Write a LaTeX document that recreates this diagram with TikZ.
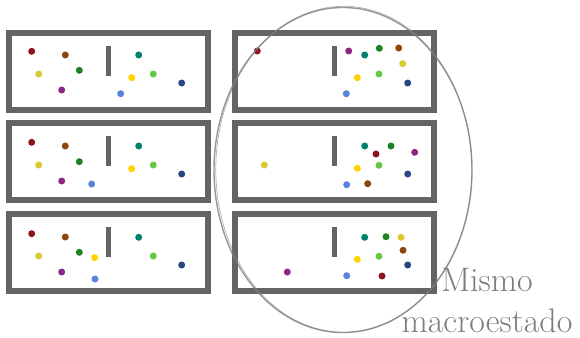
\documentclass[tikz,border=0pt]{standalone}
\usepackage{tikz}
\usetikzlibrary{math}
\usetikzlibrary{calc}

\definecolor{rojo}{RGB}{140,20,30}
\definecolor{marron}{RGB}{140,70,10}
\definecolor{verdeazul}{RGB}{0,128,110}
\definecolor{verde}{RGB}{30,130,30}
\definecolor{amarillo}{RGB}{220,200,50}
\definecolor{oro}{RGB}{255,210,0}
\definecolor{verdeclaro}{RGB}{100,200,70}
\definecolor{morado}{RGB}{140,40,130}
\definecolor{celeste}{RGB}{90,130,220}
\definecolor{azul}{RGB}{40,70,130}
\definecolor{marco}{RGB}{100,100,100}
\definecolor{lapiz}{RGB}{125,125,125}

\begin{document}
\begin{tikzpicture}[x=1pt, y=-1pt,
  caja/.style={draw=marco, line width=6pt, minimum width=199pt, minimum height=77pt, inner sep=0pt},
  pared/.style={draw=marco, line width=5pt},
  texto/.style={text=lapiz, font=\fontsize{34}{41}\selectfont, align=center, inner sep=0pt}]
\tikzmath{
\r=3.5;
}
\useasboundingbox (0,0) rectangle (580,337);

% las seis cajas
\node[caja] (L1) at (108.5,71.5) {};
\node[caja] (L2) at (108.5,161.5) {};
\node[caja] (L3) at (108.5,252.5) {};
\node[caja] (R1) at (334.5,71.5) {};
\node[caja] (R2) at (334.5,161.5) {};
\node[caja] (R3) at (334.5,252.5) {};

% paredes
\foreach \c in {L1,L2,L3,R1,R2,R3}{
\draw[pared] ($(\c.north)+(0,16)$) -- ($(\c.north)+(0,46)$);
}

% particulas
\foreach \x/\y/\col in {31.7/51.3/rojo, 65.3/55/marron, 38.7/74/amarillo, 79.3/70.3/verde, 61.7/90/morado,
  138.7/55/verdeazul, 131.7/77.7/oro, 153.3/74/verdeclaro, 120.7/93.7/celeste, 181.7/83/azul,
  31.7/142.3/rojo, 65.3/146/marron, 38.7/165/amarillo, 79.3/161.7/verde, 61.7/181/morado,
  138.7/146/verdeazul, 131.7/168.7/oro, 153.3/165/verdeclaro, 91.7/184/celeste, 181.7/174/azul,
  31.7/233.7/rojo, 65.3/237/marron, 38.7/256/amarillo, 79.3/252.3/verde, 61.7/272/morado,
  94.7/257.7/oro, 95/279/celeste, 138.7/237.3/verdeazul, 153.3/256/verdeclaro, 181.7/265/azul,
  257.3/51/rojo, 348.7/51/morado, 364.7/55/verdeazul, 379.3/48.3/verde, 398.7/48/marron,
  402.7/63.7/amarillo, 357.3/77.7/oro, 379/74/verdeclaro, 407.7/83/azul, 346.3/93.7/celeste,
  264.3/165/amarillo, 364.7/146/verdeazul, 391/146/verde, 376/154/rojo, 414.7/152.3/morado,
  357.3/168.3/oro, 379/165.3/verdeclaro, 407.7/174/azul, 346.7/184.7/celeste, 367.7/183.7/marron,
  287.3/272/morado, 364.7/237.3/verdeazul, 386/236.7/verde, 401/237.3/amarillo, 403/250.3/marron,
  357.3/259.3/oro, 379/256.3/verdeclaro, 407.7/265/azul, 346.7/275.7/celeste, 382/276/rojo}{
\fill[\col] (\x,\y) circle (\r);
}

% elipse a lapiz
\draw[lapiz, line width=1.4pt, opacity=0.8] (343,170) ellipse (129 and 162.5);
\draw[lapiz, line width=0.7pt, opacity=0.6] (343.8,169.3) ellipse (128 and 163);

\node[texto, anchor=north] (etiqueta) at (487,268) {Mismo\\macroestado};
\end{tikzpicture}
\end{document}
